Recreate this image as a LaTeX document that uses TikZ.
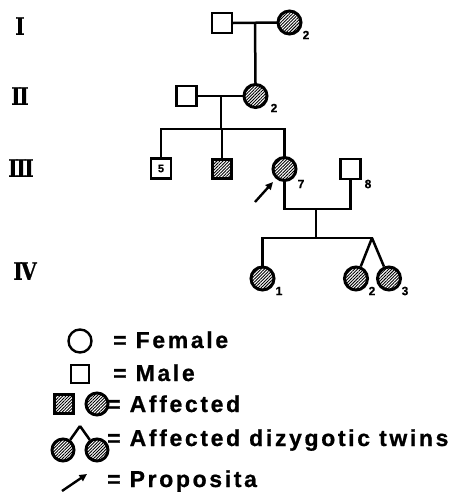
\documentclass[tikz,border=0pt]{standalone}
\usepackage{fontspec}
\usetikzlibrary{patterns.meta,arrows.meta}
\newfontfamily\lgdfont{Liberation Sans Bold}[LetterSpace=11.5,FakeBold=0.8]
\newfontfamily\numfont{Liberation Sans Bold}[FakeBold=0.6]
\newfontfamily\genfont{DejaVu Serif Bold}[FakeStretch=0.85,FakeBold=0.6]
\tikzset{
  link/.style={line width=2.5pt},
  male/.style={draw, line width=2.4pt, minimum size=20pt, inner sep=0pt, fill=white},
  female/.style={circle, draw, line width=2.4pt, minimum size=23pt, inner sep=0pt, fill=white},
  affected/.style={line width=3pt,
    pattern={Lines[angle=45,distance=2.2pt,line width=0.9pt]}},
  numlbl/.style={font=\numfont\fontsize{12}{12}\selectfont, inner sep=0pt},
  gen/.style={font=\genfont\fontsize{24}{24}\selectfont, inner sep=0pt},
  lgd/.style={font=\lgdfont\fontsize{23}{23}\selectfont, inner sep=0pt, anchor=base west},
  pointer/.style={line width=2.4pt, -{Triangle[length=7.5pt,width=7pt]}}
}
\begin{document}
\begin{tikzpicture}[x=1pt,y=-1pt]
  \fill[white] (0,0) rectangle (455,493);
  \useasboundingbox (0,0) rectangle (455,493);

  % generation numerals
  \node[gen] (gI)   at (20,26)  {I};
  \node[gen] (gII)  at (20,96)  {I\kern-1.5pt I};
  \node[gen] (gIII) at (21,168) {I\kern-1.5pt I\kern-1.5pt I};
  \node[gen] (gIV)  at (25,271) {I\kern-2pt V};

  % generation I
  \node[male] (I1) at (222,23) {};
  \node[female,affected] (I2) at (289.5,22.5) {};
  \node[numlbl] (lI2) at (306,35) {2};

  % generation II
  \node[male] (II1) at (186.5,96) {};
  \node[female,affected] (II2) at (255.5,96) {};
  \node[numlbl] (lII2) at (274,108) {2};

  % generation III
  \node[male, font=\numfont\fontsize{11}{11}\selectfont] (III5) at (161,168.5) {5};
  \node[male,affected,minimum size=19pt] (III6) at (222,168.5) {};
  \node[female,affected] (III7) at (284.5,169) {};
  \node[male] (III8) at (350.5,169) {};
  \node[numlbl] (lIII7) at (301,184) {7};
  \node[numlbl] (lIII8) at (368,184) {8};

  % generation IV
  \node[female,affected] (IV1) at (262.5,278.5) {};
  \node[female,affected] (IV2) at (356,278.5) {};
  \node[female,affected] (IV3) at (389,278.5) {};
  \node[numlbl] (lIV1) at (279,291) {1};
  \node[numlbl] (lIV2) at (372,291) {2};
  \node[numlbl] (lIV3) at (405,291) {3};

  % matings and descent lines
  \coordinate (mI)   at (255,23);
  \coordinate (mII)  at (221,96);
  \coordinate (sII)  at (221,129);
  \coordinate (sL)   at (161,129);
  \coordinate (sM)   at (222,129);
  \coordinate (sR)   at (284.5,129);
  \coordinate (mIIIa) at (284.5,209);
  \coordinate (mIIIb) at (350.5,209);
  \coordinate (mIII) at (316,209);
  \coordinate (sIII) at (316,238);
  \coordinate (sIVL) at (262.5,238);
  \coordinate (twin) at (372,238);

  \draw[link] (I1.east) -- (I2.west);
  \draw[link] (mI) -- (II2.north);
  \draw[link] (II1.east) -- (II2.west);
  \draw[link] (mII) -- (sII);
  \draw[link,line cap=rect] (sL) -- (sR);
  \draw[link] (sL) -- (III5.north);
  \draw[link] (sM) -- (III6.north);
  \draw[link] (sR) -- (III7.north);
  \draw[link,line join=miter] (III7.south) -- (mIIIa) -- (mIIIb) -- (III8.south);
  \draw[link] (mIII) -- (sIII);
  \draw[link,line cap=rect] (sIVL) -- (twin);
  \draw[link] (sIVL) -- (IV1.north);
  \draw[link] (twin) -- (IV2);
  \draw[link] (twin) -- (IV3);

  % proband arrow
  \coordinate (pA) at (255,202);
  \coordinate (pB) at (273,182);
  \draw[pointer] (pA) -- (pB);

  % key
  \node[female] (kF) at (80,341) {};
  \node[lgd] (tF) at (113,348) {= Female};
  \node[male,minimum size=18pt] (kM) at (80,374) {};
  \node[lgd] (tM) at (113,381) {= Male};
  \node[male,affected,minimum size=19pt] (kAs) at (63.5,404) {};
  \node[female,affected,minimum size=22pt] (kAc) at (97,404) {};
  \node[lgd] (tA) at (107,412) {= Affected};
  \node[female,affected,minimum size=22pt] (kT1) at (63,450) {};
  \node[female,affected,minimum size=22pt] (kT2) at (97,450) {};
  \coordinate (kTw) at (80,426);
  \draw[link] (kTw) -- (kT1);
  \draw[link] (kTw) -- (kT2);
  \node[lgd] (tT) at (107,446) {= Affected dizygotic twins};
  \coordinate (kPa) at (62,491);
  \coordinate (kPb) at (87,474);
  \draw[pointer] (kPa) -- (kPb);
  \node[lgd] (tP) at (107,487) {= Proposita};
\end{tikzpicture}
\end{document}
